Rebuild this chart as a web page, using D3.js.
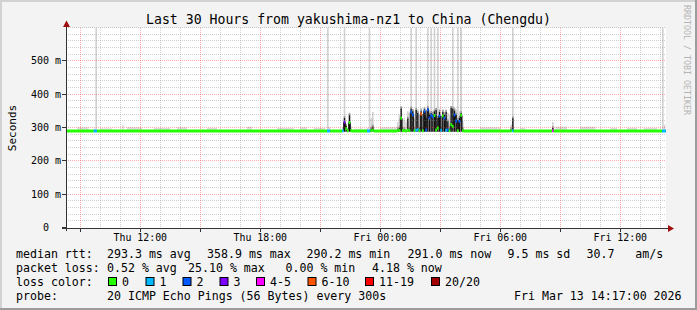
<!DOCTYPE html>
<html>
<head>
<meta charset="utf-8">
<script src="https://cdn.jsdelivr.net/npm/d3@7"></script>
<style>
   html, body { margin: 0; padding: 0; background: #f3f3f3; }
   svg { display: block; font-family: "DejaVu Sans Mono", monospace; }
   text { white-space: pre; }
</style>
</head>
<body>
<svg id="chart" width="697" height="310"></svg>
<script>
'use strict';

const title = "Last 30 Hours from yakushima-nz1 to China (Chengdu)";
const yAxisTitle = "Seconds";
const watermark = "RRDTOOL / TOBI OETIKER";
const dayDates = { Thu: "2026-03-12", Fri: "2026-03-13" };
const startTime = "Thu 08:17";
const endTime = "Fri 14:17";

const yTicks = [0, 100, 200, 300, 400, 500];
const yTickLabels = ["0  ", "100 m", "200 m", "300 m", "400 m", "500 m"];
const yMax = 600;
const xLabelTimes = ["Thu 12:00", "Thu 18:00", "Fri 00:00", "Fri 06:00", "Fri 12:00"];

// quiet periods: median flat, min ping just under it
const baselineMs = 291;
const minPingMs = 289;

// 5 minute steps that differ from the flat line:
// [step end, median ms, lost pings of 20, top of dense smoke ms, top of smoke ms]
const steps = [
   ["Thu 09:45", 291, 1, 291, 298],
   ["Thu 09:50", 291, 1, 291, 600],
   ["Thu 21:25", 291, 1, 291, 600],
   ["Thu 21:30", 291, 1, 291, 302],
   ["Thu 22:10", 292, 1, 292, 300],
   ["Thu 22:15", 317, 3, 330, 600],
   ["Thu 22:20", 298, 0, 306, 312],
   ["Thu 22:25", 292, 0, 292, 300],
   ["Thu 22:30", 316, 0, 338, 346],
   ["Thu 22:35", 292, 0, 294, 304],
   ["Thu 23:25", 291, 1, 291, 300],
   ["Thu 23:30", 291, 1, 291, 600],
   ["Thu 23:35", 292, 0, 298, 330],
   ["Thu 23:40", 293, 0, 304, 348],
   ["Fri 00:55", 292, 0, 296, 318],
   ["Fri 01:00", 293, 0, 300, 340],
   ["Fri 01:05", 329, 0, 358, 366],
   ["Fri 01:10", 292, 0, 296, 330],
   ["Fri 01:15", 292, 0, 296, 325],
   ["Fri 01:20", 291, 0, 294, 318],
   ["Fri 01:25", 293, 0, 328, 350],
   ["Fri 01:30", 292, 0, 298, 345],
   ["Fri 01:35", 348, 2, 358, 600],
   ["Fri 01:40", 340, 2, 350, 358],
   ["Fri 01:45", 292, 0, 296, 330],
   ["Fri 01:50", 293, 1, 354, 600],
   ["Fri 01:55", 295, 1, 345, 356],
   ["Fri 02:00", 292, 0, 298, 340],
   ["Fri 02:05", 342, 8, 350, 360],
   ["Fri 02:10", 292, 0, 296, 336],
   ["Fri 02:15", 350, 2, 356, 362],
   ["Fri 02:20", 294, 2, 330, 350],
   ["Fri 02:25", 355, 2, 360, 600],
   ["Fri 02:30", 330, 2, 340, 352],
   ["Fri 02:35", 338, 2, 345, 600],
   ["Fri 02:40", 334, 2, 342, 352],
   ["Fri 02:45", 337, 0, 350, 600],
   ["Fri 02:50", 294, 0, 354, 360],
   ["Fri 02:55", 300, 0, 330, 600],
   ["Fri 03:00", 336, 2, 348, 358],
   ["Fri 03:05", 293, 1, 298, 340],
   ["Fri 03:10", 336, 0, 348, 356],
   ["Fri 03:15", 330, 2, 340, 350],
   ["Fri 03:20", 293, 1, 348, 356],
   ["Fri 03:25", 294, 2, 320, 345],
   ["Fri 03:30", 292, 0, 296, 340],
   ["Fri 03:35", 310, 0, 360, 366],
   ["Fri 03:40", 305, 0, 358, 600],
   ["Fri 03:45", 339, 2, 352, 362],
   ["Fri 03:50", 321, 2, 340, 356],
   ["Fri 03:55", 292, 0, 324, 600],
   ["Fri 04:00", 320, 2, 330, 350],
   ["Fri 04:05", 338, 0, 345, 600],
   ["Fri 04:10", 292, 0, 296, 320],
   ["Fri 06:35", 292, 0, 296, 310],
   ["Fri 06:40", 292, 1, 329, 600],
   ["Fri 08:40", 292, 4, 300, 318],
   ["Fri 14:10", 291, 1, 291, 600],
   ["Fri 14:15", 291, 1, 291, 310]
];

// faint smoke just above the line in quiet hours: [from, to, top ms]
const quietSmoke = [
   ["Thu 08:50", "Thu 09:25", 302],
   ["Thu 10:00", "Thu 10:35", 299],
   ["Thu 11:05", "Thu 11:10", 310],
   ["Thu 11:20", "Thu 12:05", 302],
   ["Thu 12:40", "Thu 13:30", 300],
   ["Thu 13:50", "Thu 14:20", 302],
   ["Thu 15:20", "Thu 15:50", 300],
   ["Thu 17:20", "Thu 17:35", 304],
   ["Thu 18:50", "Thu 19:40", 300],
   ["Thu 20:00", "Thu 20:20", 302],
   ["Thu 20:40", "Thu 21:15", 300],
   ["Thu 22:40", "Thu 23:20", 298],
   ["Fri 00:00", "Fri 00:50", 302],
   ["Fri 05:00", "Fri 06:00", 302],
   ["Fri 07:00", "Fri 07:15", 300],
   ["Fri 08:45", "Fri 09:20", 304],
   ["Fri 10:00", "Fri 10:45", 304],
   ["Fri 11:30", "Fri 11:50", 300],
   ["Fri 12:20", "Fri 12:50", 300],
   ["Fri 13:10", "Fri 13:50", 300]
];

const lossClasses = ["0", "1", "2", "3", "4-5", "6-10", "11-19", "20/20"];
const lossUpper = [0, 1, 2, 3, 5, 10, 19, 20];
const lossColors = ["#26ff00", "#00b8ff", "#0059ff", "#7e00ff", "#ff00ff", "#ff5500", "#ff0000", "#a10000"];

const rttStats = ["293.3 ms avg", "358.9 ms max", "290.2 ms min", "291.0 ms now", "9.5 ms sd", "30.7   am/s"];
const lossStats = ["0.52 % avg", "25.10 % max", "0.00 % min", "4.18 % now"];
const probeText = "20 ICMP Echo Pings (56 Bytes) every 300s";
const stampText = "Fri Mar 13 14:17:00 2026";


const svg = d3.select("#chart"),
   width = +svg.attr("width"),
   height = +svg.attr("height");

const parseFull = d3.timeParse("%Y-%m-%d %H:%M");
const parseTime = s => {
   const [day, hm] = s.split(" ");
   return parseFull(dayDates[day] + " " + hm);
};

const start = parseTime(startTime),
   end = parseTime(endTime);

const x = d3.scaleTime().domain([start, end]).range([66, 666]);
const y = d3.scaleLinear().domain([0, yMax]).range([228, 28]);
const px = v => Math.floor(v) + 0.5;
const py = v => Math.round(v) - 0.5;

// frame
svg.append("rect").attr("width", width).attr("height", height).attr("fill", "#f3f3f3");
svg.append("rect").attr("width", width).attr("height", 2).attr("fill", "#d2d2d2");
svg.append("rect").attr("width", 2).attr("height", height).attr("fill", "#d2d2d2");
svg.append("rect").attr("y", height - 2).attr("width", width).attr("height", 2).attr("fill", "#9c9c9c");
svg.append("rect").attr("x", width - 2).attr("width", 2).attr("height", height).attr("fill", "#9c9c9c");

svg.append("rect")
   .attr("x", x.range()[0]).attr("y", y.range()[1])
   .attr("width", x.range()[1] - x.range()[0])
   .attr("height", y.range()[0] - y.range()[1])
   .attr("fill", "#ffffff");

// series at 5 minute resolution
const known = new Map(steps.map(r => [+parseTime(r[0]), r]));
const series = d3.timeMinute.every(5).range(start, end).map(t => {
   const r = known.get(+t);
   return {
      t0: d3.timeMinute.offset(t, -5) < start ? start : d3.timeMinute.offset(t, -5),
      t1: t,
      med: r ? r[1] : baselineMs,
      loss: r ? r[2] : 0,
      dark: r ? r[3] : null,
      top: r ? r[4] : null
   };
});
const lossClass = n => lossUpper.findIndex(u => n <= u);

const smoke = svg.append("g");

smoke.selectAll("rect.quiet").data(quietSmoke).enter().append("rect")
   .attr("class", "quiet")
   .attr("x", d => x(parseTime(d[0])))
   .attr("width", d => x(parseTime(d[1])) - x(parseTime(d[0])))
   .attr("y", d => y(d[2]))
   .attr("height", d => y(minPingMs) - y(d[2]))
   .attr("fill", "#dedede");

const loud = series.filter(d => d.top !== null);

smoke.selectAll("rect.light").data(loud).enter().append("rect")
   .attr("class", "light")
   .attr("x", d => x(d.t0))
   .attr("width", d => x(d.t1) - x(d.t0))
   .attr("y", d => y(Math.min(d.top, yMax)))
   .attr("height", d => y(minPingMs) - y(Math.min(d.top, yMax)))
   .attr("fill", "#d2d2d2");

const dense = loud.filter(d => d.dark > baselineMs + 4);

smoke.selectAll("rect.mid").data(dense).enter().append("rect")
   .attr("class", "mid")
   .attr("x", d => x(d.t0))
   .attr("width", d => x(d.t1) - x(d.t0))
   .attr("y", d => y(Math.min(d.top, d.dark + 6)))
   .attr("height", d => y(minPingMs) - y(Math.min(d.top, d.dark + 6)))
   .attr("fill", "#9a9a9a");

// densest part of the smoke, one pixel wide in the middle of the step
smoke.selectAll("rect.dark").data(dense).enter().append("rect")
   .attr("class", "dark")
   .attr("x", d => (x(d.t0) + x(d.t1)) / 2 - 0.6)
   .attr("width", 1.2)
   .attr("y", d => y(d.dark))
   .attr("height", d => y(minPingMs) - y(d.dark))
   .attr("fill", "#111111");

// grid
const grid = svg.append("g").attr("stroke-dasharray", "1,1").attr("stroke-width", 1);
const minorY = d3.range(20, yMax + 1, 20).filter(v => v % 100 !== 0 || v === yMax);
const majorY = yTicks.filter(v => v > 0);
const hours = d3.timeHour.range(start, end);

grid.selectAll("line.minY").data(minorY).enter().append("line")
   .attr("x1", x.range()[0]).attr("x2", x.range()[1])
   .attr("y1", d => py(y(d))).attr("y2", d => py(y(d)))
   .attr("stroke", "rgba(150,150,150,0.45)");

grid.selectAll("line.minX").data(hours.filter(h => h.getHours() % 3 !== 0)).enter().append("line")
   .attr("x1", d => px(x(d))).attr("x2", d => px(x(d)))
   .attr("y1", y.range()[1]).attr("y2", y.range()[0])
   .attr("stroke", "rgba(150,150,150,0.45)");

grid.selectAll("line.majY").data(majorY).enter().append("line")
   .attr("x1", x.range()[0]).attr("x2", x.range()[1])
   .attr("y1", d => py(y(d))).attr("y2", d => py(y(d)))
   .attr("stroke", "rgba(255,40,40,0.4)");

grid.selectAll("line.majX").data(hours.filter(h => h.getHours() % 3 === 0)).enter().append("line")
   .attr("x1", d => px(x(d))).attr("x2", d => px(x(d)))
   .attr("y1", y.range()[1]).attr("y2", y.range()[0])
   .attr("stroke", "rgba(255,40,40,0.4)");

// median: thin dark connector, then loss coloured steps
const connector = series.map(d => [x(d.t0), y(d.med)]);
connector.push([x(end), y(series[series.length - 1].med)]);
svg.append("path")
   .attr("d", d3.line().curve(d3.curveStepAfter)(connector))
   .attr("fill", "none")
   .attr("stroke", "#111")
   .attr("stroke-width", 1);

const segments = [];
series.forEach(d => {
   const c = lossClass(d.loss),
      last = segments[segments.length - 1];
   if (last && last.c === c && last.med === d.med) {
      last.t1 = d.t1;
   } else {
      segments.push({ c: c, med: d.med, t0: d.t0, t1: d.t1 });
   }
});
segments[segments.length - 1].t1 = end;

svg.append("g").selectAll("line").data(segments).enter().append("line")
   .attr("x1", d => x(d.t0)).attr("x2", d => x(d.t1))
   .attr("y1", d => y(d.med)).attr("y2", d => y(d.med))
   .attr("stroke", d => lossColors[d.c])
   .attr("stroke-width", 3);

// axes
const axis = svg.append("g").attr("stroke", "#333").attr("stroke-width", 1);
axis.append("line").attr("x1", 62).attr("x2", 670).attr("y1", 228.5).attr("y2", 228.5);
axis.append("line").attr("x1", 66.5).attr("x2", 66.5).attr("y1", 231).attr("y2", 25);
axis.selectAll("line.tx").data(hours.filter(h => h.getHours() % 3 === 0)).enter().append("line")
   .attr("x1", d => px(x(d))).attr("x2", d => px(x(d)))
   .attr("y1", 228).attr("y2", 232);
axis.selectAll("line.ty").data(yTicks).enter().append("line")
   .attr("x1", 62).attr("x2", 66.5)
   .attr("y1", d => py(y(d))).attr("y2", d => py(y(d)));

svg.append("path").attr("d", "M66.5,20.5 L70,27 L63,27 Z").attr("fill", "#a01010");
svg.append("path").attr("d", "M674,228.5 L668,225 L668,232 Z").attr("fill", "#a01010");

// labels
svg.append("text")
   .attr("x", width / 2).attr("y", 23.5)
   .attr("text-anchor", "middle")
   .attr("font-size", "13.2px")
   .text(title);

svg.append("text")
   .attr("transform", "translate(15.5," + ((y.range()[0] + y.range()[1]) / 2) + ") rotate(-90)")
   .attr("text-anchor", "middle")
   .attr("font-size", "11px")
   .text(yAxisTitle);

svg.append("text")
   .attr("transform", "translate(683.5,5) rotate(90)")
   .attr("font-size", "8.3px")
   .attr("fill", "#b4b4b4")
   .text(watermark);

svg.append("g").selectAll("text").data(yTicks).enter().append("text")
   .attr("x", 61)
   .attr("y", d => py(y(d)) + 3.8)
   .attr("text-anchor", "end")
   .attr("font-size", "10px")
   .text((d, i) => yTickLabels[i]);

const fmtTick = d3.timeFormat("%a %H:%M");
svg.append("g").selectAll("text").data(xLabelTimes.map(parseTime)).enter().append("text")
   .attr("x", d => x(d))
   .attr("y", 241)
   .attr("text-anchor", "middle")
   .attr("font-size", "9.9px")
   .text(d => fmtTick(d));

// legend
const legend = svg.append("g").attr("font-size", "11.6px");
const rows = [257.5, 271.8, 286, 300.2];
const rttX = [107, 207, 306.5, 407.5, 507.5, 586.5];
const lossX = [107, 188, 285.5, 372];
const swatchX = [108, 145.5, 182.5, 219.5, 256, 307.5, 365, 431];

legend.append("text").attr("x", 16).attr("y", rows[0]).text("median rtt:");
legend.selectAll("text.rtt").data(rttStats).enter().append("text")
   .attr("x", (d, i) => rttX[i]).attr("y", rows[0]).text(d => d);

legend.append("text").attr("x", 16).attr("y", rows[1]).text("packet loss:");
legend.selectAll("text.loss").data(lossStats).enter().append("text")
   .attr("x", (d, i) => lossX[i]).attr("y", rows[1]).text(d => d);

legend.append("text").attr("x", 16).attr("y", rows[2]).text("loss color:");
legend.selectAll("rect.sw").data(lossClasses).enter().append("rect")
   .attr("x", (d, i) => swatchX[i] + 0.5).attr("y", rows[2] - 8.5)
   .attr("width", 8).attr("height", 8)
   .attr("fill", (d, i) => lossColors[i])
   .attr("stroke", "#000");
legend.selectAll("text.sw").data(lossClasses).enter().append("text")
   .attr("x", (d, i) => swatchX[i] + 14).attr("y", rows[2]).text(d => d);

legend.append("text").attr("x", 16).attr("y", rows[3]).text("probe:");
legend.append("text").attr("x", 107).attr("y", rows[3]).text(probeText);
legend.append("text").attr("x", 514).attr("y", rows[3]).text(stampText);
</script>
</body>
</html>
